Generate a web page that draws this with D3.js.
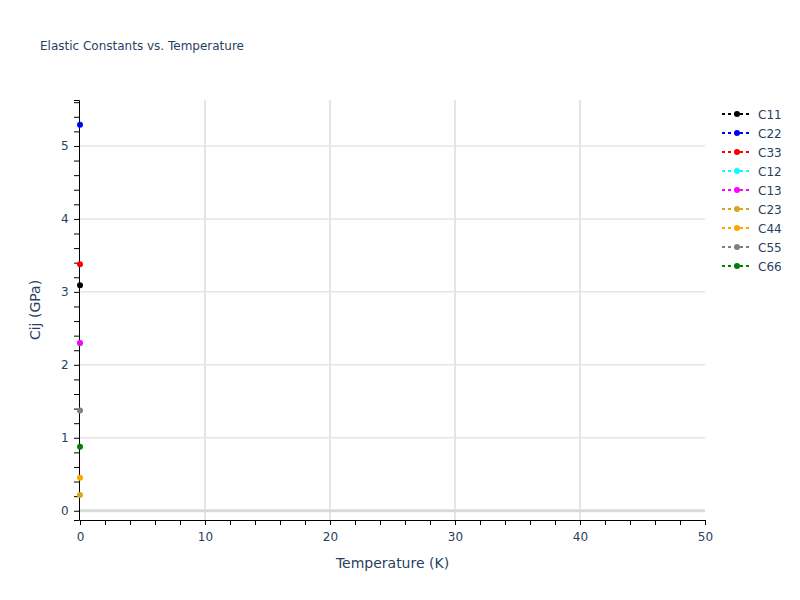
<!DOCTYPE html>
<html>
<head>
<meta charset="utf-8">
<script src="https://cdn.jsdelivr.net/npm/d3@7"></script>
<style>
  body { margin: 0; background: #fff; }
  text { font-family: "DejaVu Sans", Verdana, sans-serif; fill: #2a3f5f; }
</style>
</head>
<body>
<div id="chart"></div>
<script>
const W = 800, H = 600
const MARGIN = { TOP: 100, BOTTOM: 80, LEFT: 80, RIGHT: 95 }
const WIDTH = W - MARGIN.LEFT - MARGIN.RIGHT
const HEIGHT = H - MARGIN.TOP - MARGIN.BOTTOM
const FONT = '"DejaVu Sans", Verdana, sans-serif'

// data: one point per series at T = 0
const series = ['C11', 'C22', 'C33', 'C12', 'C13', 'C23', 'C44', 'C55', 'C66']
const colors = ['black', 'blue', 'red', 'cyan', 'magenta', 'goldenrod', 'orange', 'gray', 'green']
const temps = [0]
const values = [
    [3.09], [5.29], [3.38], [2.30], [2.30], [0.215], [0.452], [1.375], [0.877]
]
const xTicks = [0, 10, 20, 30, 40, 50]
const yTicks = [0, 1, 2, 3, 4, 5]

const svg = d3.select('#chart').append('svg')
    .attr('width', W)
    .attr('height', H)

svg.append('text')
    .attr('x', 40)
    .attr('y', 50)
    .attr('font-size', 12)
    .text('Elastic Constants vs. Temperature')

const g = svg.append('g')
    .attr('transform', `translate(${MARGIN.LEFT}, ${MARGIN.TOP})`)

const x = d3.scaleLinear().domain([0, 50]).range([0, WIDTH])
const y = d3.scaleLinear().domain([-0.127, 5.63]).range([HEIGHT, 0])

// grid
g.selectAll('.vgrid').data(xTicks.filter(d => d > 0 && d < 50))
    .enter().append('line')
        .attr('x1', d => x(d)).attr('x2', d => x(d))
        .attr('y1', 0).attr('y2', HEIGHT)
        .attr('stroke', '#e5e5e5').attr('stroke-width', 2)
g.selectAll('.hgrid').data(yTicks)
    .enter().append('line')
        .attr('x1', 0).attr('x2', WIDTH)
        .attr('y1', d => y(d)).attr('y2', d => y(d))
        .attr('stroke', d => d === 0 ? '#d9d9d9' : '#e5e5e5')
        .attr('stroke-width', d => d === 0 ? 3 : 1.5)

// axes
const xAxisGroup = g.append('g').attr('transform', `translate(0, ${HEIGHT})`)
xAxisGroup.call(d3.axisBottom(x).tickValues(d3.range(0, 51, 2)).tickSize(5).tickFormat(d => d % 10 === 0 ? d : ''))
const yAxisGroup = g.append('g').attr('transform', 'translate(-1, 0)')
yAxisGroup.call(d3.axisLeft(y).tickValues(d3.range(0, 5.61, 0.2)).tickSize(5)
    .tickFormat(d => Math.abs(d - Math.round(d)) < 1e-6 ? Math.round(d) : ''))

;[xAxisGroup, yAxisGroup].forEach(ax => {
    ax.select('.domain').attr('stroke', '#000').attr('stroke-width', 1)
    ax.selectAll('.tick line').attr('stroke', '#000')
    ax.selectAll('.tick text').attr('font-size', 12).attr('fill', '#2a3f5f')
        .attr('font-family', FONT)
})
xAxisGroup.selectAll('.tick text').attr('dy', '1.1em')
yAxisGroup.selectAll('.tick text').attr('dx', '-0.2em')

svg.append('text')
    .attr('x', MARGIN.LEFT + WIDTH / 2)
    .attr('y', 568)
    .attr('text-anchor', 'middle')
    .attr('font-size', 14)
    .text('Temperature (K)')

svg.append('text')
    .attr('transform', `translate(40, ${MARGIN.TOP + HEIGHT / 2}) rotate(-90)`)
    .attr('text-anchor', 'middle')
    .attr('font-size', 14)
    .text('Cij (GPa)')

// series
series.forEach((s, i) => {
    const pts = temps.map((t, j) => [t, values[i][j]])
    g.append('path')
        .datum(pts)
        .attr('fill', 'none')
        .attr('stroke', colors[i])
        .attr('stroke-width', 2)
        .attr('stroke-dasharray', '3,3')
        .attr('d', d3.line().x(d => x(d[0])).y(d => y(d[1])))
    g.selectAll(null).data(pts)
        .enter().append('circle')
            .attr('cx', d => x(d[0]))
            .attr('cy', d => y(d[1]))
            .attr('r', 3)
            .attr('fill', colors[i])
})

// legend
const legend = svg.append('g').attr('transform', 'translate(722, 114)')
const item = legend.selectAll('g').data(series)
    .enter().append('g')
        .attr('transform', (d, i) => `translate(0, ${i * 19})`)
item.append('line')
    .attr('x1', 0).attr('x2', 30)
    .attr('stroke', (d, i) => colors[i])
    .attr('stroke-width', 2)
    .attr('stroke-dasharray', '3,3')
item.append('circle')
    .attr('cx', 15).attr('r', 3)
    .attr('fill', (d, i) => colors[i])
item.append('text')
    .attr('x', 36).attr('y', 4.5)
    .attr('font-size', 12)
    .text(d => d)
</script>
</body>
</html>
